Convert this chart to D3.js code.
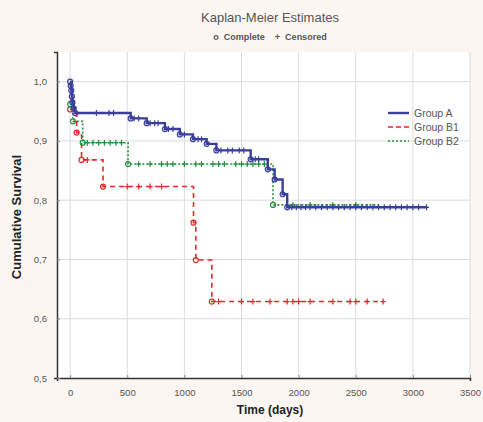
<!DOCTYPE html>
<html>
<head>
<meta charset="utf-8">
<script src="https://cdn.jsdelivr.net/npm/d3@7"></script>
<style>
  body { margin: 0; background: #fcf6f2; }
  svg { display: block; }
  text { font-family: "Liberation Sans", Arial, sans-serif; }
  .grid line { stroke: #dcdcdc; stroke-width: 1; }
</style>
</head>
<body>
<div id="chart"></div>
<script>
// step points (time in days, cumulative survival)
const groupATime = [0, 5, 10, 15, 20, 30, 45, 530, 670, 830, 960, 1075, 1195, 1280, 1580, 1730, 1790, 1860, 1900, 3120]
const groupASurv = [1.0, 0.993, 0.985, 0.975, 0.965, 0.955, 0.947, 0.938, 0.930, 0.920, 0.911, 0.903, 0.895, 0.884, 0.869, 0.852, 0.835, 0.810, 0.788, 0.788]
const groupACens = [230, 340, 380, 560, 600, 700, 740, 770, 860, 900, 1000, 1120, 1150, 1320, 1380, 1420, 1480, 1520, 1620, 1650, 1940, 1980, 2020, 2060, 2100, 2150, 2200, 2250, 2300, 2350, 2400, 2450, 2500, 2550, 2600, 2650, 2700, 2750, 2800, 2850, 2900, 2950, 3000, 3050, 3120]

const groupB1Time = [0, 57, 100, 288, 1080, 1100, 1240, 2740]
const groupB1Surv = [0.953, 0.914, 0.868, 0.823, 0.762, 0.699, 0.629, 0.629]
const groupB1Cens = [150, 500, 600, 700, 800, 1300, 1500, 1600, 1750, 1900, 1950, 2000, 2100, 2300, 2450, 2500, 2600, 2740]

const groupB2Time = [0, 25, 110, 507, 1776, 2700]
const groupB2Surv = [0.962, 0.933, 0.897, 0.861, 0.792, 0.792]
const groupB2Cens = [150, 200, 250, 300, 350, 400, 450, 600, 700, 800, 850, 900, 1000, 1100, 1150, 1250, 1300, 1350, 1450, 1500, 1550, 1600, 1650, 1700, 1950, 2100, 2300, 2500]

const xTicks = [0, 500, 1000, 1500, 2000, 2500, 3000, 3500]
const yTicks = [0.5, 0.6, 0.7, 0.8, 0.9, 1.0]

const groups = [
    {name: 'Group A', time: groupATime, surv: groupASurv, cens: groupACens, color: '#3b3f9c', dash: null, width: 2.4},
    {name: 'Group B1', time: groupB1Time, surv: groupB1Surv, cens: groupB1Cens, color: '#e8262b', dash: '5,4', width: 1.6},
    {name: 'Group B2', time: groupB2Time, surv: groupB2Surv, cens: groupB2Cens, color: '#22913f', dash: '2,2', width: 1.6}
]

const width = 483
const height = 422
const margin = {top: 52, left: 57, right: 13, bottom: 44}
const innerWidth = width - margin.left - margin.right
const innerHeight = height - margin.top - margin.bottom

const svg = d3.select('#chart').append('svg')
    .attr('width', width)
    .attr('height', height)

const g = svg.append('g')
    .attr('transform', `translate(${margin.left},${margin.top})`)

const xScale = d3.scaleLinear().domain([-115, 3500]).range([0, innerWidth])
const yScale = d3.scaleLinear().domain([0.5, 1.05]).range([innerHeight, 0])

g.append('rect')
    .attr('width', innerWidth)
    .attr('height', innerHeight)
    .attr('fill', '#fff')

// grid
g.append('g').attr('class', 'grid')
    .selectAll('line').data(xTicks).join('line')
    .attr('x1', d => xScale(d)).attr('x2', d => xScale(d))
    .attr('y1', 0).attr('y2', innerHeight)
g.append('g').attr('class', 'grid')
    .selectAll('line').data(yTicks.slice(1)).join('line')
    .attr('x1', 0).attr('x2', innerWidth)
    .attr('y1', d => yScale(d)).attr('y2', d => yScale(d))

const commaFmt = d => d3.format('.1f')(d).replace('.', ',')

const xAxis = d3.axisBottom(xScale).tickValues(xTicks).tickSize(3).tickPadding(8).tickFormat(d3.format('d'))
const yAxis = d3.axisLeft(yScale).tickValues(yTicks).tickSize(3).tickPadding(7).tickFormat(commaFmt)

const xAxisG = g.append('g').attr('transform', `translate(0,${innerHeight})`).call(xAxis)
const yAxisG = g.append('g').call(yAxis)
for (const ax of [xAxisG, yAxisG]) {
    ax.attr('font-size', null).attr('font-family', null)
    ax.select('.domain').attr('stroke', '#333').attr('stroke-width', 1.5)
    ax.selectAll('.tick text').attr('fill', '#555').attr('font-size', 9.5)
}
xAxisG.selectAll('.tick line').attr('stroke', '#888').attr('y2', -3)
yAxisG.selectAll('.tick line').attr('stroke', '#888').attr('x2', 3)

// curves
const line = d3.line()
    .x(d => xScale(d[0]))
    .y(d => yScale(d[1]))
    .curve(d3.curveStepAfter)

function survAt(grp, t) {
    let v = grp.surv[0]
    for (let i = 0; i < grp.time.length; i++) {
        if (grp.time[i] <= t) v = grp.surv[i]
    }
    return v
}

// draw B1, B2 first, A on top
const order = [groups[1], groups[2], groups[0]]
order.forEach(grp => {
    const pts = grp.time.map((t, i) => [t, grp.surv[i]])
    const gg = g.append('g')
    gg.append('path')
        .attr('d', line(pts))
        .attr('fill', 'none')
        .attr('stroke', grp.color)
        .attr('stroke-width', grp.width)
        .attr('stroke-dasharray', grp.dash)

    // complete events: small circles at the drops
    gg.selectAll('circle').data(pts.slice(0, -1)).join('circle')
        .attr('cx', d => xScale(d[0]))
        .attr('cy', d => yScale(d[1]))
        .attr('r', 2.5)
        .attr('fill', 'none')
        .attr('stroke', grp.color)
        .attr('stroke-width', 1.2)

    // censored: plus marks
    gg.selectAll('path.cens').data(grp.cens).join('path')
        .attr('class', 'cens')
        .attr('d', t => {
            const x = xScale(t), y = yScale(survAt(grp, t))
            return `M${x - 2.5},${y}H${x + 2.5}M${x},${y - 3}V${y + 3}`
        })
        .attr('stroke', grp.color)
        .attr('stroke-width', 1.2)
})

// titles
svg.append('text')
    .attr('x', 270).attr('y', 22)
    .attr('text-anchor', 'middle')
    .attr('fill', '#555')
    .style('font-size', '13px')
    .text('Kaplan-Meier Estimates')

svg.append('text')
    .attr('x', 270).attr('y', 40)
    .attr('text-anchor', 'middle')
    .attr('fill', '#555')
    .style('font-size', '9px')
    .style('font-weight', 'bold')
    .style('white-space', 'pre')
    .text('o  Complete    +  Censored')

svg.append('text')
    .attr('x', 270).attr('y', 414)
    .attr('text-anchor', 'middle')
    .attr('fill', '#222')
    .style('font-size', '12px')
    .style('font-weight', 'bold')
    .text('Time (days)')

svg.append('text')
    .attr('transform', 'translate(21,217) rotate(-90)')
    .attr('text-anchor', 'middle')
    .attr('fill', '#222')
    .style('font-size', '13px')
    .style('font-weight', 'bold')
    .text('Cumulative Survival')

// legend
const legendG = svg.append('g')
legendG.selectAll('line').data(groups).join('line')
    .attr('x1', 388).attr('x2', 409)
    .attr('y1', (_, i) => 113 + 14 * i)
    .attr('y2', (_, i) => 113 + 14 * i)
    .attr('stroke', d => d.color)
    .attr('stroke-width', d => d.width)
    .attr('stroke-dasharray', d => d.dash ? (d.name === 'Group B1' ? '5,3' : '2,2') : null)
legendG.selectAll('text').data(groups).join('text')
    .attr('x', 414)
    .attr('y', (_, i) => 113 + 14 * i)
    .attr('dy', '0.35em')
    .attr('fill', '#555')
    .style('font-size', '10.5px')
    .text(d => d.name)
</script>
</body>
</html>
